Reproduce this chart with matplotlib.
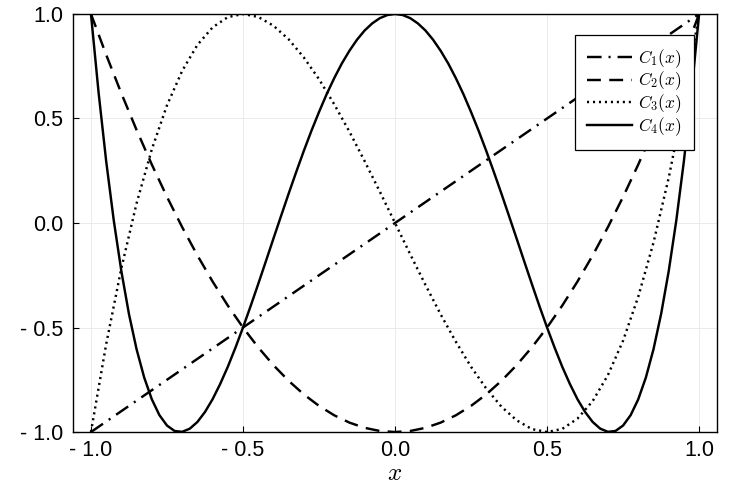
import matplotlib
matplotlib.use("Agg")
import matplotlib.pyplot as plt

# values
x_c1 = [-1.0, 1.0]
c1 = [-1.0, 1.0]

x_c23 = [-1.0, -0.95, -0.9, -0.85, -0.8, -0.75, -0.7, -0.65, -0.6, -0.55, -0.5,
         -0.45, -0.4, -0.35, -0.3, -0.25, -0.2, -0.15, -0.1, -0.05, 0.0,
         0.05, 0.1, 0.15, 0.2, 0.25, 0.3, 0.35, 0.4, 0.45, 0.5,
         0.55, 0.6, 0.65, 0.7, 0.75, 0.8, 0.85, 0.9, 0.95, 1.0]
c2 = [1.000, 0.805, 0.620, 0.445, 0.280, 0.125, -0.020, -0.155, -0.280, -0.395, -0.500,
      -0.595, -0.680, -0.755, -0.820, -0.875, -0.920, -0.955, -0.980, -0.995, -1.000,
      -0.995, -0.980, -0.955, -0.920, -0.875, -0.820, -0.755, -0.680, -0.595, -0.500,
      -0.395, -0.280, -0.155, -0.020, 0.125, 0.280, 0.445, 0.620, 0.805, 1.000]
c3 = [-1.000, -0.580, -0.216, 0.094, 0.352, 0.563, 0.728, 0.852, 0.936, 0.985, 1.000,
      0.986, 0.944, 0.879, 0.792, 0.688, 0.568, 0.437, 0.296, 0.150, 0.000,
      -0.150, -0.296, -0.437, -0.568, -0.688, -0.792, -0.879, -0.944, -0.986, -1.000,
      -0.985, -0.936, -0.852, -0.728, -0.563, -0.352, -0.094, 0.216, 0.580, 1.000]

x_c4 = [-1.0, -0.975, -0.95, -0.925, -0.9, -0.875, -0.85, -0.825, -0.8, -0.775,
        -0.75, -0.725, -0.7, -0.675, -0.65, -0.625, -0.6, -0.575, -0.55, -0.525,
        -0.5, -0.475, -0.45, -0.425, -0.4, -0.375, -0.35, -0.325, -0.3, -0.275,
        -0.25, -0.225, -0.2, -0.175, -0.15, -0.125, -0.1, -0.075, -0.05, -0.025,
        0.0, 0.025, 0.05, 0.075, 0.1, 0.125, 0.15, 0.175, 0.2, 0.225,
        0.25, 0.275, 0.3, 0.325, 0.35, 0.375, 0.4, 0.425, 0.45, 0.475,
        0.5, 0.525, 0.55, 0.575, 0.6, 0.625, 0.65, 0.675, 0.7, 0.725,
        0.75, 0.775, 0.8, 0.825, 0.85, 0.875, 0.9, 0.925, 0.95, 0.975, 1.0]
c4 = [1.000, 0.625, 0.296, 0.012, -0.231, -0.436, -0.604, -0.739, -0.843, -0.919,
      -0.969, -0.995, -0.999, -0.984, -0.952, -0.904, -0.843, -0.770, -0.688, -0.597,
      -0.500, -0.398, -0.292, -0.184, -0.075, 0.033, 0.140, 0.244, 0.345, 0.441,
      0.531, 0.616, 0.693, 0.763, 0.824, 0.877, 0.921, 0.955, 0.980, 0.995,
      1.000, 0.995, 0.980, 0.955, 0.921, 0.877, 0.824, 0.763, 0.693, 0.616,
      0.531, 0.441, 0.345, 0.244, 0.140, 0.033, -0.075, -0.184, -0.292, -0.398,
      -0.500, -0.597, -0.688, -0.770, -0.843, -0.904, -0.952, -0.984, -0.999, -0.995,
      -0.969, -0.919, -0.843, -0.739, -0.604, -0.436, -0.231, 0.012, 0.296, 0.625, 1.000]

ticks = [-1.0, -0.5, 0.0, 0.5, 1.0]
tick_labels = ["- 1.0", "- 0.5", "0.0", "0.5", "1.0"]
legend_labels = [r"$C_1(x)$", r"$C_2(x)$", r"$C_3(x)$", r"$C_4(x)$"]

plt.rcParams["font.family"] = ["Liberation Sans", "DejaVu Sans"]
plt.rcParams["mathtext.fontset"] = "cm"
plt.rcParams["lines.scale_dashes"] = False

fig = plt.figure(figsize=(7.31, 4.87), dpi=100)
ax = fig.add_axes([0.0999, 0.1129, 0.881, 0.8584])

lw = 1.75
ax.plot(x_c1, c1, color="black", lw=lw, dashes=(10.5, 5, 1.5, 5), label=legend_labels[0])
ax.plot(x_c23, c2, color="black", lw=lw, dashes=(10, 6), label=legend_labels[1])
ax.plot(x_c23, c3, color="black", lw=lw, dashes=(1.5, 2.8), label=legend_labels[2])
ax.plot(x_c4, c4, color="black", lw=lw, label=legend_labels[3])

ax.set_xlim(-1.059, 1.059)
ax.set_ylim(-1.0, 1.0)
ax.set_xticks(ticks)
ax.set_xticklabels(tick_labels)
ax.set_yticks(ticks)
ax.set_yticklabels(tick_labels)
ax.tick_params(direction="in", length=4, width=0.8, labelsize=15.5, pad=7)
ax.tick_params(axis="x", pad=6)
ax.grid(True, color="#e6e6e6", lw=0.6)
ax.set_axisbelow(True)
for s in ax.spines.values():
    s.set_linewidth(1.0)

ax.set_xlabel(r"$x$", fontsize=18, labelpad=0)

leg = ax.legend(loc="upper right", bbox_to_anchor=(0.964, 0.95), fontsize=12.5,
                frameon=True, fancybox=False, framealpha=1, edgecolor="black",
                handlelength=2.6, handletextpad=0.35, labelspacing=0.0,
                borderpad=0.7, borderaxespad=0)
leg.get_frame().set_linewidth(0.9)

fig.savefig("out.png", dpi=100)
